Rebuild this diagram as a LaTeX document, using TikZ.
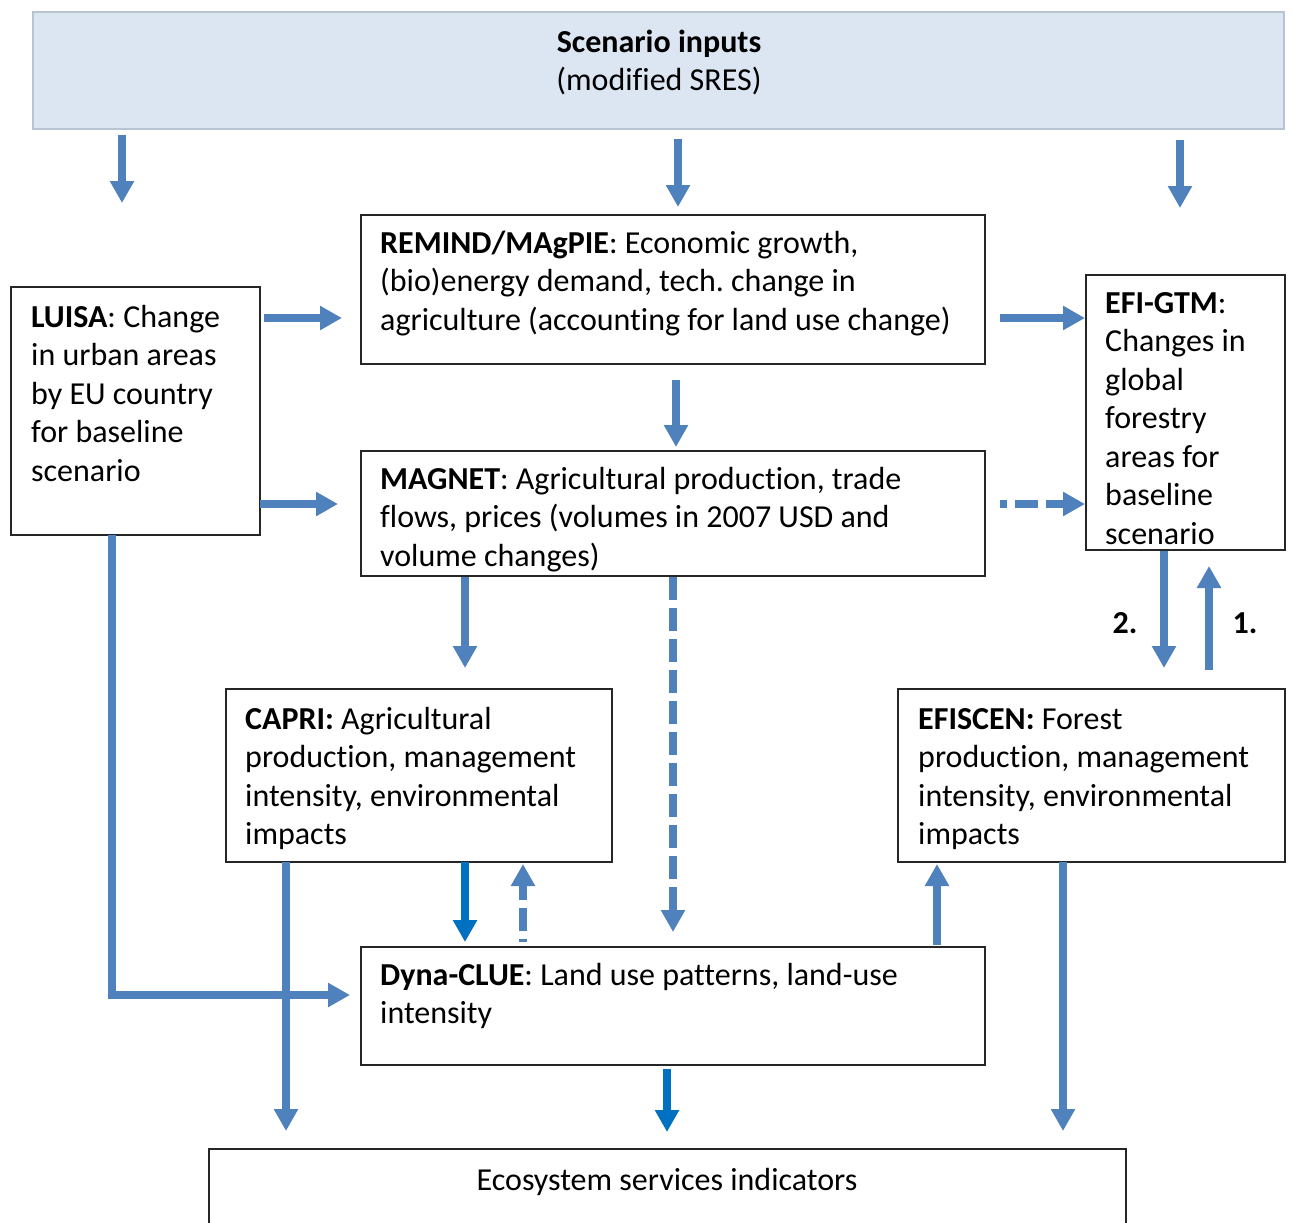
\documentclass[tikz,border=0pt]{standalone}
\usepackage{fontspec}
\setmainfont{Carlito}[Ligatures={NoCommon,NoRare}]
\usetikzlibrary{arrows.meta,calc}
\definecolor{arrblue}{HTML}{4F81BD}
\definecolor{darkblue}{HTML}{0070C0}
\definecolor{scenfill}{HTML}{DCE6F2}
\definecolor{scenline}{HTML}{B9C4D2}
\frenchspacing
\begin{document}
\begin{tikzpicture}[x=1pt,y=-1pt,
  box/.style={draw=black!85, line width=1.3pt, fill=white, anchor=north west, inner sep=0pt, outer sep=0pt},
  txt/.style={anchor=north west, inner sep=0pt, align=left, font=\fontsize{32}{38.5}\selectfont},
  arr/.style={draw=arrblue, line width=8pt, -{Triangle[length=22pt,width=23pt]}},
  darr/.style={arr, draw=darkblue},
  dsh/.style={arr, dash pattern=on 23pt off 8pt}
]
\clip (0,0) rectangle (1293,1223);
\useasboundingbox (0,0) rectangle (1293,1223);

% boxes
\node[box, draw=scenline, fill=scenfill, minimum width=1251pt, minimum height=117pt] (scen) at (33,12) {};
\node[box, minimum width=624pt, minimum height=149pt] (remind) at (361,215) {};
\node[box, minimum width=249pt, minimum height=248pt] (luisa) at (11,287) {};
\node[box, minimum width=199pt, minimum height=275pt] (efi) at (1086,275) {};
\node[box, minimum width=624pt, minimum height=125pt] (magnet) at (361,451) {};
\node[box, minimum width=386pt, minimum height=173pt] (capri) at (226,689) {};
\node[box, minimum width=387pt, minimum height=173pt] (efiscen) at (898,689) {};
\node[box, minimum width=624pt, minimum height=118pt] (dyna) at (361,947) {};
\node[box, minimum width=917pt, minimum height=90pt] (ess) at (209,1149) {};

% texts
\node[txt, anchor=north, align=center] (scenT) at (659,25) {\strut\textbf{Scenario inputs}\\(modified SRES)};
\node[txt] (remindT) at (380,226) {\strut\textbf{REMIND/MAgPIE}: Economic growth,\\(bio)energy demand, tech. change in\\agriculture (accounting for land use change)};
\node[txt] (luisaT) at (31,300) {\strut\textbf{LUISA}: Change\\in urban areas\\by EU country\\for baseline\\scenario};
\node[txt] (efiT) at (1105,286) {\strut\textbf{EFI-GTM}:\\Changes in\\global\\forestry\\areas for\\baseline\\scenario};
\node[txt] (magnetT) at (380,462) {\strut\textbf{MAGNET}: Agricultural production, trade\\flows, prices (volumes in 2007 USD and\\volume changes)};
\node[txt] (capriT) at (245,702) {\strut\textbf{CAPRI:} Agricultural\\production, management\\intensity, environmental\\impacts};
\node[txt] (efiscenT) at (918,702) {\strut\textbf{EFISCEN:} Forest\\production, management\\intensity, environmental\\impacts};
\node[txt] (dynaT) at (380,958) {\strut\textbf{Dyna-CLUE}: Land use patterns, land-use\\intensity};
\node[txt, anchor=north, align=center] (essT) at (667,1163) {\strut Ecosystem services indicators};
\node[txt, anchor=base] (lab2) at (1125,633) {\textbf{2.}};
\node[txt, anchor=base] (lab1) at (1245,633) {\textbf{1.}};

% arrows from scenario inputs
\draw[arr] ($(scen.south west)+(89,6)$) -- ($(luisa.north west)+(111,-84)$);
\draw[arr] ($(scen.south west)+(645,10)$) -- ($(remind.north west)+(317,-8)$);
\draw[arr] ($(scen.south west)+(1147,11)$) -- ($(efi.north west)+(94,-67)$);
% luisa / remind / efi
\draw[arr] ($(luisa.north east)+(4,31)$) -- ($(remind.north west)+(-19,103)$);
\draw[arr] ($(remind.north east)+(15,103)$) -- ($(efi.north west)+(-1,43)$);
\draw[arr] ($(remind.south west)+(315,16)$) -- ($(magnet.north west)+(315,-4)$);
\draw[arr] ($(luisa.south east)+(0,-31)$) -- ($(magnet.north west)+(-23,53)$);
\draw[dsh, dash phase=16pt] ($(magnet.north east)+(15,53)$) -- ($(efi.north west)+(-1,229)$);
% magnet down
\draw[arr] ($(magnet.south west)+(104,1)$) -- ($(capri.north west)+(239,-21)$);
\draw[dsh] ($(magnet.south west)+(312,1)$) -- ($(dyna.north west)+(312,-15)$);
% efi / efiscen
\draw[arr] ($(efi.south west)+(78,1)$) -- ($(efiscen.north west)+(266,-21)$);
\draw[arr] ($(efiscen.north west)+(311,-19)$) -- ($(efi.south west)+(123,16)$);
% capri / dyna
\draw[darr] ($(capri.south west)+(239,0)$) -- ($(dyna.north west)+(104,-5)$);
\draw[dsh, dash phase=20pt] ($(dyna.north west)+(162,-5)$) -- ($(capri.south west)+(297,2)$);
\draw[arr] ($(dyna.north west)+(576,-2)$) -- ($(efiscen.south west)+(39,2)$);
% luisa to dyna
\draw[arr] ($(luisa.south west)+(101,0)$) |- ($(dyna.north west)+(-11,48)$);
% to ecosystem services
\draw[arr] ($(capri.south west)+(60,0)$) -- ($(ess.north west)+(77,-18)$);
\draw[darr] ($(dyna.south west)+(306,4)$) -- ($(ess.north west)+(458,-17)$);
\draw[arr] ($(efiscen.south west)+(165,0)$) -- ($(ess.north west)+(854,-18)$);
\end{tikzpicture}
\end{document}
